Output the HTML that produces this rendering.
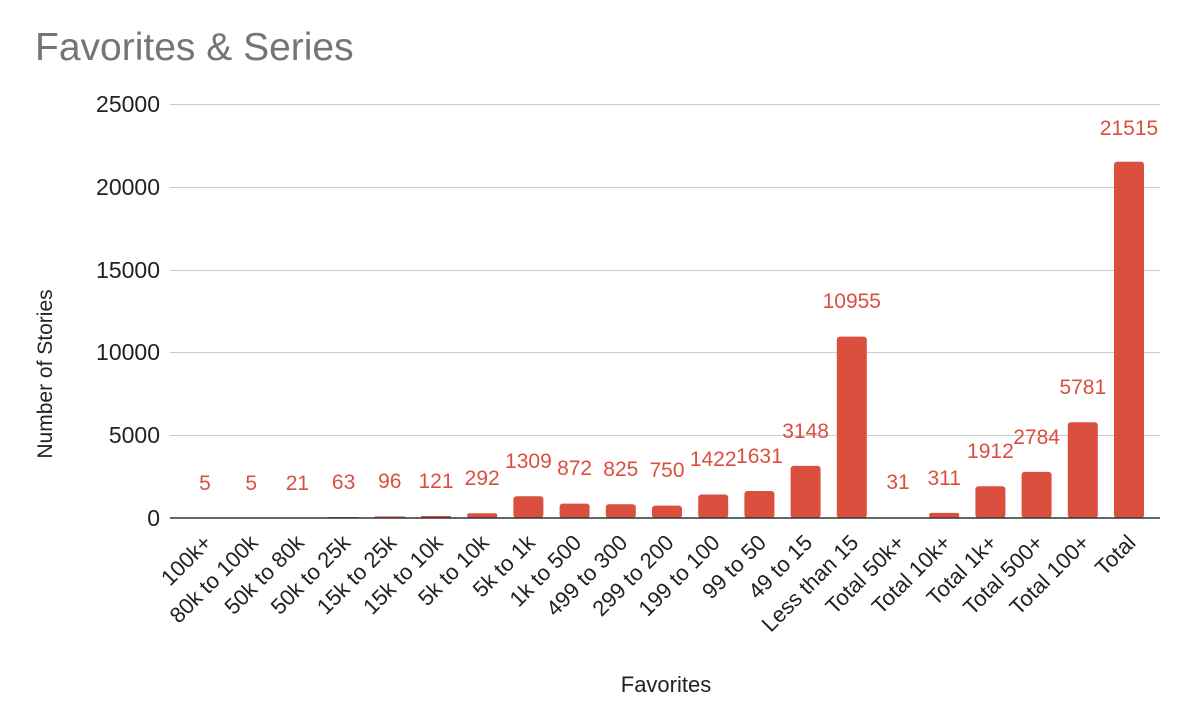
<!DOCTYPE html>
<html><head><style>body{margin:0;background:#fff}svg{display:block}text{font-family:"Liberation Sans",Arial,sans-serif}</style></head>
<body>
<svg width="1198" height="725" viewBox="0 0 1198 725" xmlns="http://www.w3.org/2000/svg">
<rect width="1198" height="725" fill="#fff"/>
<text x="35" y="60" font-size="39" fill="#757575">Favorites &amp; Series</text>
<g stroke="#ccc" stroke-width="1">
<line x1="170" x2="1160" y1="104.5" y2="104.5"/>
<line x1="170" x2="1160" y1="187.5" y2="187.5"/>
<line x1="170" x2="1160" y1="270.5" y2="270.5"/>
<line x1="170" x2="1160" y1="352.5" y2="352.5"/>
<line x1="170" x2="1160" y1="435.5" y2="435.5"/>
</g>
<g font-size="23" fill="#222" text-anchor="end">
<text x="160" y="112">25000</text>
<text x="160" y="195">20000</text>
<text x="160" y="278">15000</text>
<text x="160" y="360">10000</text>
<text x="160" y="443">5000</text>
<text x="160" y="526">0</text>
</g>
<text transform="translate(52,374) rotate(-90)" font-size="21" fill="#222" text-anchor="middle">Number of Stories</text>
<text x="666" y="692" font-size="22" fill="#222" text-anchor="middle">Favorites</text>
<g fill="#db4f3f">
<rect x="190" y="517.9" width="30" height="0.1"/>
<rect x="236.2" y="517.9" width="30" height="0.1"/>
<rect x="282.4" y="517.6" width="30" height="0.4"/>
<rect x="328.6" y="517" width="30" height="1"/>
<rect x="374.8" y="516.4" width="30" height="1.6"/>
<rect x="421" y="516" width="30" height="2"/>
<rect x="467.2" y="513.2" width="30" height="4.8" rx="2"/>
<rect x="513.4" y="496.3" width="30" height="21.7" rx="3"/>
<rect x="559.6" y="503.6" width="30" height="14.4" rx="3"/>
<rect x="605.8" y="504.3" width="30" height="13.7" rx="3"/>
<rect x="652" y="505.6" width="30" height="12.4" rx="3"/>
<rect x="698.2" y="494.5" width="30" height="23.5" rx="3"/>
<rect x="744.4" y="491" width="30" height="27" rx="3"/>
<rect x="790.6" y="465.9" width="30" height="52.1" rx="3"/>
<rect x="836.8" y="336.6" width="30" height="181.4" rx="3"/>
<rect x="883" y="517.5" width="30" height="0.5"/>
<rect x="929.2" y="512.9" width="30" height="5.1" rx="2"/>
<rect x="975.4" y="486.3" width="30" height="31.7" rx="3"/>
<rect x="1021.6" y="471.9" width="30" height="46.1" rx="3"/>
<rect x="1067.8" y="422.3" width="30" height="95.7" rx="3"/>
<rect x="1114" y="161.7" width="30" height="356.3" rx="3"/>
</g>
<line x1="170" x2="1160" y1="518" y2="518" stroke="#333" stroke-width="1.5"/>
<g font-size="21" fill="#db4f3f" text-anchor="middle">
<text x="205" y="490">5</text>
<text x="251.2" y="490">5</text>
<text x="297.4" y="490">21</text>
<text x="343.6" y="489">63</text>
<text x="389.8" y="488">96</text>
<text x="436" y="488">121</text>
<text x="482.2" y="485">292</text>
<text x="528.4" y="468">1309</text>
<text x="574.6" y="475">872</text>
<text x="620.8" y="476">825</text>
<text x="667" y="477">750</text>
<text x="713.2" y="466">1422</text>
<text x="759.4" y="463">1631</text>
<text x="805.6" y="438">3148</text>
<text x="851.8" y="308">10955</text>
<text x="898" y="489">31</text>
<text x="944.2" y="485">311</text>
<text x="990.4" y="458">1912</text>
<text x="1036.6" y="444">2784</text>
<text x="1082.8" y="394">5781</text>
<text x="1129" y="135">21515</text>
</g>
<g font-size="22" fill="#222" text-anchor="end">
<text transform="translate(213,544) rotate(-45)">100k+</text>
<text transform="translate(259.2,544) rotate(-45)">80k to 100k</text>
<text transform="translate(305.4,544) rotate(-45)">50k to 80k</text>
<text transform="translate(351.6,544) rotate(-45)">50k to 25k</text>
<text transform="translate(397.8,544) rotate(-45)">15k to 25k</text>
<text transform="translate(444,544) rotate(-45)">15k to 10k</text>
<text transform="translate(490.2,544) rotate(-45)">5k to 10k</text>
<text transform="translate(536.4,544) rotate(-45)">5k to 1k</text>
<text transform="translate(582.6,544) rotate(-45)">1k to 500</text>
<text transform="translate(628.8,544) rotate(-45)">499 to 300</text>
<text transform="translate(675,544) rotate(-45)">299 to 200</text>
<text transform="translate(721.2,544) rotate(-45)">199 to 100</text>
<text transform="translate(767.4,544) rotate(-45)">99 to 50</text>
<text transform="translate(813.6,544) rotate(-45)">49 to 15</text>
<text transform="translate(859.8,544) rotate(-45)">Less than 15</text>
<text transform="translate(906,544) rotate(-45)">Total 50k+</text>
<text transform="translate(952.2,544) rotate(-45)">Total 10k+</text>
<text transform="translate(998.4,544) rotate(-45)">Total 1k+</text>
<text transform="translate(1044.6,544) rotate(-45)">Total 500+</text>
<text transform="translate(1090.8,544) rotate(-45)">Total 100+</text>
<text transform="translate(1137,544) rotate(-45)">Total</text>
</g>
</svg>
</body></html>
